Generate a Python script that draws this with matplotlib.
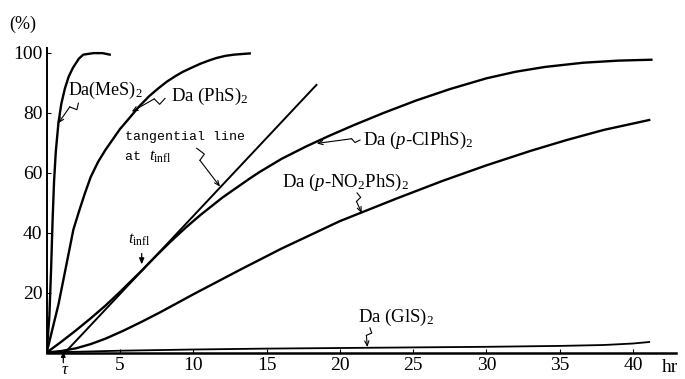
import numpy as np
import matplotlib
matplotlib.use("Agg")
import matplotlib.pyplot as plt

plt.rcParams['font.family'] = ['Liberation Serif', 'DejaVu Serif']
plt.rcParams['mathtext.fontset'] = 'custom'
plt.rcParams['mathtext.rm'] = 'Liberation Serif'
plt.rcParams['mathtext.it'] = 'Liberation Serif:italic'

# time (hr) vs conversion (%)
t_mes = [0, 0.18, 0.3, 0.4, 0.5, 0.62, 0.8, 1.0, 1.24, 1.5, 1.8, 2.2, 2.5, 3.2, 3.8, 4.3]
y_mes = [0, 12, 28, 44, 57, 67, 76.6, 83, 88, 92, 95, 98, 99.3, 99.8, 99.8, 99.3]

t_phs = [0, 0.4, 0.8, 1.25, 1.82, 2.2, 2.6, 3.0, 3.5, 4.0, 4.5, 5.0, 5.7, 6.3, 7.0, 7.6,
         8.2, 8.8, 9.3, 10.0, 10.5, 11.1, 11.6, 12.2, 12.8, 13.85]
y_phs = [0, 8, 16, 27, 41, 47, 53, 58.5, 63.5, 67.5, 71, 74.5, 78.5, 82, 85.5, 88,
         90.3, 92.2, 93.6, 95.2, 96.3, 97.4, 98.2, 98.9, 99.3, 99.7]

t_cl = [0, 1, 2, 3, 4, 5, 6, 6.5, 7.5, 8.5, 9.5, 10.5, 12, 13.85, 14.5, 16, 17.7, 19.3, 21,
        23, 25.2, 27.5, 30, 32, 34, 36.6, 39, 41.25]
y_cl = [0, 3.6, 7.4, 11.4, 15.6, 20.2, 25, 27.4, 32.4, 37.2, 41.7, 45.9, 51.7, 58, 60.1, 64.5,
        68.7, 72.3, 75.9, 79.9, 84.0, 87.8, 91.4, 93.6, 95.2, 96.6, 97.3, 97.6]

t_no2 = [0, 1, 2, 3, 4, 5.2, 6.5, 7.7, 10, 13.2, 16, 20, 23.85, 27, 30, 33, 35.45, 38, 41.1]
y_no2 = [0, 0.5, 1.4, 2.8, 4.6, 7.2, 10.3, 13.3, 19.4, 27.6, 34.6, 43.8, 51.3, 57.2, 62.4,
         67.2, 70.8, 74.2, 77.5]

t_gls = [0, 5, 10, 15, 20, 25, 30, 35, 38, 40, 41.1]
y_gls = [0, 0.6, 1.0, 1.3, 1.5, 1.7, 1.9, 2.2, 2.5, 3.0, 3.5]

# tangential line at t_infl, from tau
t_tan = [1.25, 18.4]
y_tan = [0, 89.2]
tau = 1.13
t_infl = 6.48

xticks = [5, 10, 15, 20, 25, 30, 35, 40]
yticks = [20, 40, 60, 80, 100]

fig = plt.figure(figsize=(6.85, 3.79), dpi=100)
ax = fig.add_axes([0.0682, 0.0699, 0.9187, 0.8034])
ax.set_xlim(0, 42.93)
ax.set_ylim(0, 101.5)

lw = 1.7
ax.plot(t_mes, y_mes, color='black', lw=lw)
ax.plot(t_phs, y_phs, color='black', lw=lw)
ax.plot(t_cl, y_cl, color='black', lw=lw)
ax.plot(t_no2, y_no2, color='black', lw=lw)
ax.plot(t_gls, y_gls, color='black', lw=1.3)
ax.plot(t_tan, y_tan, color='black', lw=1.4)

for s in ['top', 'right']:
    ax.spines[s].set_visible(False)
ax.spines['left'].set_linewidth(1.4)
ax.spines['bottom'].set_linewidth(1.8)
ax.set_xticks(xticks)
ax.set_yticks(yticks)
ax.tick_params(direction='in', length=3, width=0.8, labelsize=14, pad=3)


def zigzag(start, end, at=0.2, size=3.5):
    # short lightning-bolt kink, then a straight arrow onto the curve
    tr = ax.transData
    p0 = tr.transform(start)
    p1 = tr.transform(end)
    d = p1 - p0
    L = np.hypot(*d)
    u = d / L
    n = np.array([-u[1], u[0]])
    m = p0 + u * L * at
    a = m + n * size
    b = m - n * size + u * 3
    pts = tr.inverted().transform(np.array([p0, a, b]))
    ax.plot(pts[:, 0], pts[:, 1], color='black', lw=0.8, clip_on=False)
    ax.annotate('', xy=end, xytext=tuple(pts[2]),
                arrowprops=dict(arrowstyle='->,head_length=0.35,head_width=0.15',
                                lw=0.8, color='black', shrinkA=0, shrinkB=0))


fs = 13.5
ax.text(3.98, 87.5, r'Da(MeS)$_2$', fontsize=13, ha='center', va='center')
zigzag((2.16, 83.1), (0.79, 76.4))

ax.text(11.14, 85.2, r'Da (PhS)$_2$', fontsize=fs, ha='center', va='center')
zigzag((8.07, 84.7), (5.8, 80.3))

ax.text(5.34, 71.8, 'tangential line', fontsize=9.5, family='Liberation Mono',
        ha='left', va='center')
ax.text(5.34, 65.2, 'at ', fontsize=9.5, family='Liberation Mono', ha='left', va='center')
ax.text(7.0, 65.2, r'$t_{\rm infl}$', fontsize=12, ha='left', va='center')
zigzag((10.23, 68.1), (11.82, 55.3))

ax.text(6.3, 37.5, r'$t_{\rm infl}$', fontsize=12, ha='center', va='center')
ax.annotate('', xy=(t_infl, 29.4), xytext=(t_infl, 33),
            arrowprops=dict(arrowstyle='-|>,head_length=0.35,head_width=0.15',
                            lw=0.9, color='black', shrinkA=0, shrinkB=0))

ax.text(21.6, 70.8, r'Da ($p$-ClPhS)$_2$', fontsize=fs, ha='left', va='center')
zigzag((21.37, 70.8), (18.42, 69.7), at=0.12, size=2)

ax.text(16.05, 56.8, r'Da ($p$-NO$_2$PhS)$_2$', fontsize=fs, ha='left', va='center')
zigzag((21.17, 53.2), (21.49, 46.5), at=0.25, size=2.5)

ax.text(21.24, 11.8, r'Da (GlS)$_2$', fontsize=fs, ha='left', va='center')
zigzag((22.05, 8.2), (21.87, 1.8), at=0.25, size=2.5)

ax.text(1.25, -5.9, r'$\tau$', fontsize=12, ha='center', va='center', clip_on=False)
ax.annotate('', xy=(tau, 0.3), xytext=(tau, -3.4),
            arrowprops=dict(arrowstyle='-|>,head_length=0.3,head_width=0.13',
                            lw=0.9, color='black', shrinkA=0, shrinkB=0),
            annotation_clip=False)

fig.text(23 / 685, 1 - 24 / 379, '(%)', fontsize=13, ha='center', va='center')
fig.text(670 / 685, 1 - 368 / 379, 'hr', fontsize=14, ha='center', va='center')

fig.savefig('out.png', dpi=100)
